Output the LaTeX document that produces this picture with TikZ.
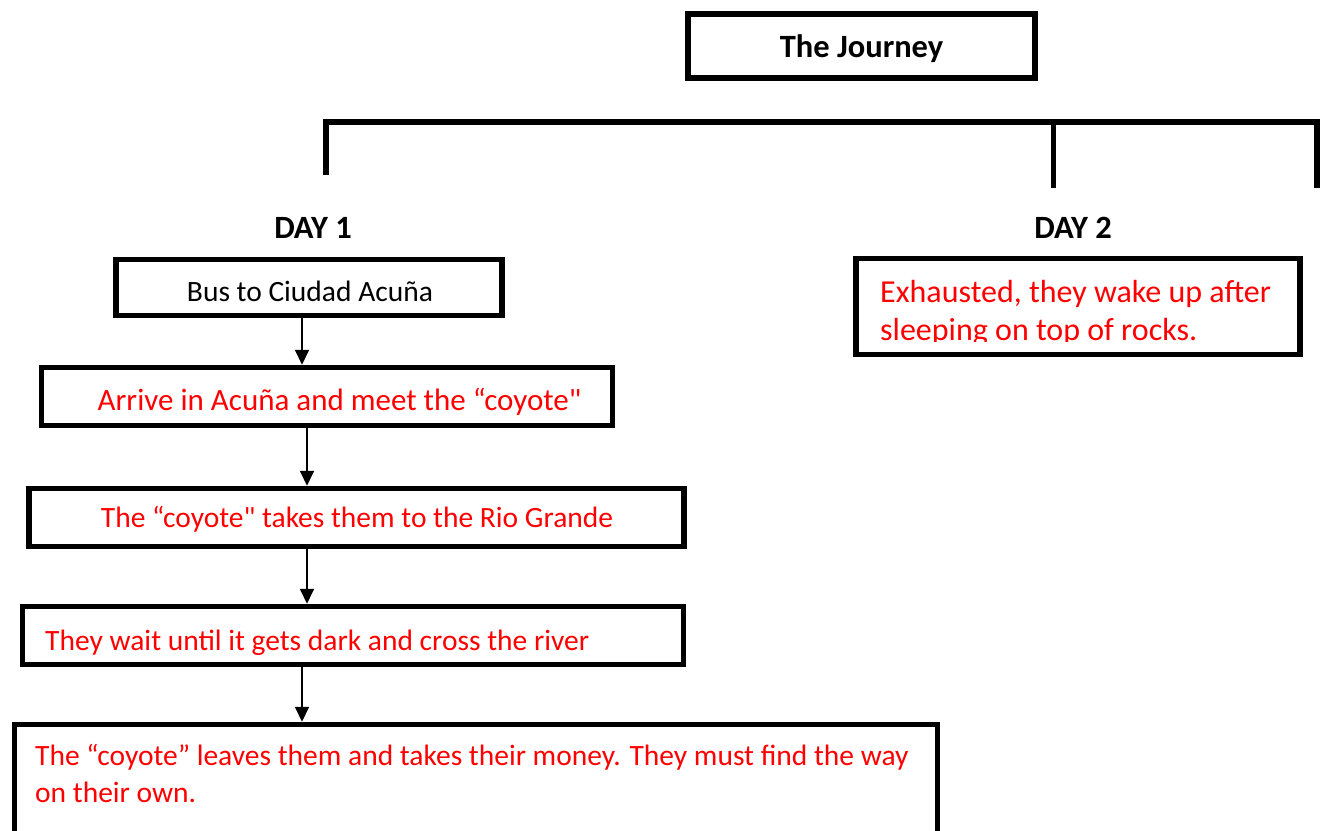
\documentclass[tikz,border=0pt]{standalone}
\usepackage{fontspec}
\setmainfont{Carlito}[Ligatures=TeXOff]
\usetikzlibrary{arrows.meta}
\begin{document}
\begin{tikzpicture}[x=1pt,y=-1pt,
  every node/.style={font=\fontsize{29.5}{36}\selectfont},
  box/.style={draw=black, line width=5.5pt, inner sep=0pt, fill=white},
  arr/.style={line width=2pt, -{Triangle[width=14pt,length=15pt]}},
  txt/.style={inner sep=0pt, anchor=base},
  ltxt/.style={inner sep=0pt, anchor=base west, align=left},
  rtxt/.style={text=red},
  head/.style={font=\fontsize{32.5}{38}\selectfont\bfseries},
  brk/.style={line width=5.5pt, line cap=rect}
]
\clip (0,0) rectangle (1325,830);
\fill[white] (0,0) rectangle (1325,830);

% title
\node[box, minimum width=347pt, minimum height=64pt] (title) at (861.5,46) {};
\node[txt, head] (titletxt) at (861.5,57) {The Journey};

% bracket
\coordinate (bl) at (326,172);
\coordinate (bm) at (1053,188);
\coordinate (br) at (1317,185);
\coordinate (hl) at (326,122);
\coordinate (hm) at (1053,122);
\coordinate (hr) at (1317,122);
\draw[brk] (bl) -- (hl) -- (hr) -- (br);
\draw[line width=5pt] (hm) -- (bm);

% day labels
\node[txt, head] (day1) at (313,238) {DAY 1};
\node[txt, head] (day2) at (1073,238) {DAY 2};

% day 1 boxes
\node[box, minimum width=386pt, minimum height=56pt] (b1) at (309,287.5) {};
\node[txt] (t1) at (310,301) {Bus to Ciudad Acuña};

\node[box, minimum width=571pt, minimum height=58pt] (b2) at (327,396.5) {};
\node[txt, rtxt, font=\fontsize{31}{36}\selectfont] (t2) at (339.5,410) {Arrive in Acuña and meet the “coyote"};

\node[box, minimum width=655pt, minimum height=58pt] (b3) at (356.5,517.5) {};
\node[txt, rtxt] (t3) at (357,527) {The “coyote" takes them to the Rio Grande};

\node[box, minimum width=661pt, minimum height=58pt] (b4) at (353,635.5) {};
\node[ltxt, rtxt] (t4) at (45,650) {They wait until it gets dark and cross the river};

\node[box, minimum width=923pt, minimum height=140pt] (b5) at (476,794.5) {};
\node[ltxt, rtxt, font=\fontsize{29.5}{37}\selectfont] (t5) at (35,802) {The “coyote” leaves them and takes their money. They must find the way\\on their own.};

% day 2 box
\node[box, minimum width=444pt, minimum height=96pt] (d2) at (1078,306.5) {};
\begin{scope}
\clip (860,262) rectangle (1296,341);
\node[ltxt, rtxt, font=\fontsize{32}{38}\selectfont] (d2txt) at (880,340) {Exhausted, they wake up after\\sleeping on top of rocks.};
\end{scope}

% arrows
\coordinate (xa) at (302,0);
\coordinate (xb) at (307,0);
\draw[arr] (b1.south -| xa) -- (b2.north -| xa);
\draw[arr] (b2.south -| xb) -- (b3.north -| xb);
\draw[arr] (b3.south -| xb) -- (b4.north -| xb);
\draw[arr] (b4.south -| xa) -- (b5.north -| xa);
\end{tikzpicture}
\end{document}
